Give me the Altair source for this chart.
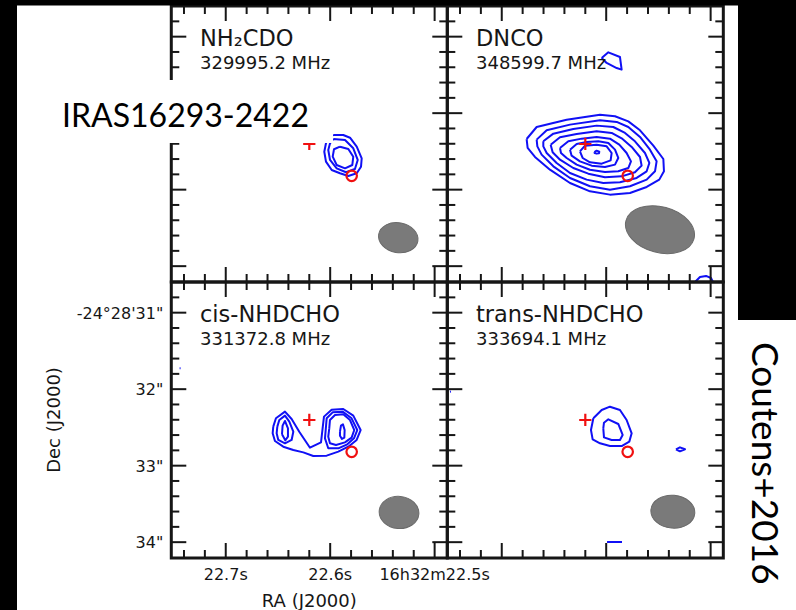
import altair as alt
import pandas as pd

# ---------------------------------------------------------------
# Values (IRAS16293-2422 B, Coutens+2016)
# ---------------------------------------------------------------
PANEL_NAME = ["NH₂CDO", "DNCO", "cis-NHDCHO", "trans-NHDCHO"]
PANEL_FREQ = ["329995.2 MHz", "348599.7 MHz", "331372.8 MHz", "333694.1 MHz"]
PANEL_COL = [0, 1, 0, 1]
PANEL_ROW = [0, 0, 1, 1]

# map centre = red cross : RA 16h32m22.620s, Dec -24d28m32.40s
RA_CENTRE_S = 22.620
DEC_CENTRE_AS = 32.403
FIELD_AS = 3.608          # side of each map (arcsec)
SEC_TO_AS = 13.652        # 1 s of RA at this declination (arcsec)

RA_TICK_S = [22.50, 22.52, 22.54, 22.56, 22.58, 22.60, 22.62,
             22.64, 22.66, 22.68, 22.70, 22.72, 22.74]
RA_LABEL_S = [22.7, 22.6, 22.5]
RA_LABEL = ["22.7s", "22.6s", "16h32m22.5s"]
DEC_TICK_AS = [30.8, 31.0, 31.2, 31.4, 31.6, 31.8, 32.0, 32.2, 32.4,
               32.6, 32.8, 33.0, 33.2, 33.4, 33.6, 33.8, 34.0]
DEC_LABEL_AS = [31, 32, 33, 34]
DEC_LABEL = ["-24°28'31\"", "32\"", "33\"", "34\""]

# second source (red circle): offset from the cross, arcsec (east, north)
SRC2_DRA, SRC2_DDEC = -0.554, -0.416

# synthesized beams: offset of centre (east, north), axes (arcsec), angle
BEAM_DRA = [-1.163, -0.976, -1.173, -1.144]
BEAM_DDEC = [-1.225, -1.120, -1.209, -1.199]
BEAM_MAJ = [0.52, 0.92, 0.52, 0.575]
BEAM_MIN = [0.39, 0.60, 0.42, 0.43]
BEAM_PA = [10, 15, 5, 5]

# contours: points are (east offset, north offset) in arcsec from the cross
NH2CDO_1 = [(-0.314, 0.118), (-0.444, 0.118), (-0.532, 0.082), (-0.620, -0.035), (-0.685, -0.187),
            (-0.676, -0.297), (-0.620, -0.383), (-0.510, -0.418), (-0.401, -0.383), (-0.293, -0.340),
            (-0.218, -0.231), (-0.196, -0.101), (-0.218, 0.009), (-0.261, 0.082)]
NH2CDO_2 = [(-0.314, 0.065), (-0.467, 0.052), (-0.575, -0.056), (-0.633, -0.209), (-0.597, -0.327),
            (-0.480, -0.370), (-0.358, -0.318), (-0.271, -0.209), (-0.248, -0.078), (-0.271, 0.009)]
NH2CDO_3 = [(-0.401, -0.035), (-0.510, -0.065), (-0.575, -0.166), (-0.562, -0.275), (-0.467, -0.318),
            (-0.358, -0.275), (-0.306, -0.166), (-0.323, -0.069)]

DNCO_1 = [(0.767, 0.065), (0.636, 0.222), (0.244, 0.318), (-0.192, 0.383), (-0.388, 0.362),
          (-0.562, 0.296), (-0.715, 0.179), (-0.889, -0.022), (-1.020, -0.196), (-1.028, -0.357),
          (-0.967, -0.466), (-0.802, -0.562), (-0.584, -0.641), (-0.322, -0.662), (-0.061, -0.619),
          (0.200, -0.510), (0.462, -0.336), (0.658, -0.170), (0.754, -0.052)]
DNCO_2 = [(0.636, 0.057), (0.505, 0.179), (0.200, 0.253), (-0.192, 0.309), (-0.410, 0.288),
          (-0.562, 0.222), (-0.715, 0.092), (-0.845, -0.074), (-0.932, -0.227), (-0.911, -0.357),
          (-0.802, -0.466), (-0.584, -0.553), (-0.322, -0.597), (-0.061, -0.553), (0.200, -0.444),
          (0.418, -0.292), (0.571, -0.139), (0.627, -0.031)]
DNCO_3 = [(0.549, 0.035), (0.418, 0.135), (0.157, 0.196), (-0.148, 0.240), (-0.366, 0.222),
          (-0.519, 0.144), (-0.649, 0.035), (-0.780, -0.118), (-0.837, -0.248), (-0.802, -0.357),
          (-0.671, -0.444), (-0.453, -0.501), (-0.235, -0.510), (-0.017, -0.466), (0.200, -0.379),
          (0.375, -0.248), (0.505, -0.118), (0.549, -0.031)]
DNCO_4 = [(0.453, -0.009), (0.331, 0.087), (0.113, 0.131), (-0.148, 0.166), (-0.344, 0.144),
          (-0.475, 0.074), (-0.606, -0.039), (-0.715, -0.170), (-0.736, -0.283), (-0.649, -0.370),
          (-0.475, -0.423), (-0.257, -0.436), (-0.039, -0.388), (0.157, -0.314), (0.331, -0.205),
          (0.427, -0.109)]
DNCO_5 = [(0.331, -0.052), (0.222, 0.035), (0.048, 0.070), (-0.148, 0.092), (-0.322, 0.070),
          (-0.444, -0.009), (-0.540, -0.118), (-0.597, -0.227), (-0.562, -0.314), (-0.431, -0.357),
          (-0.257, -0.366), (-0.061, -0.336), (0.113, -0.270), (0.244, -0.183), (0.318, -0.118)]
DNCO_6 = [(0.200, -0.074), (0.113, 0.000), (-0.017, 0.026), (-0.170, 0.035), (-0.301, 0.013),
          (-0.388, -0.074), (-0.431, -0.183), (-0.388, -0.270), (-0.257, -0.301), (-0.083, -0.283),
          (0.070, -0.227), (0.179, -0.153)]
DNCO_7 = [(0.070, -0.096), (0.004, -0.022), (-0.148, -0.009), (-0.279, -0.031), (-0.344, -0.118),
          (-0.331, -0.214), (-0.214, -0.257), (-0.061, -0.240), (0.035, -0.183)]
DNCO_PEAK = [(-0.118, -0.105), (-0.148, -0.087), (-0.183, -0.100), (-0.179, -0.122),
             (-0.148, -0.126), (-0.122, -0.118)]
DNCO_NORTH = [(-0.214, 1.124), (-0.301, 1.198), (-0.453, 1.137), (-0.475, 0.972),
              (-0.410, 0.993), (-0.279, 1.059)]
DNCO_EDGE = [(-1.434, -1.804), (-1.499, -1.739), (-1.578, -1.725), (-1.643, -1.752), (-1.669, -1.804)]

CIS_1 = [(0.471, -0.087), (0.436, 0.022), (0.318, 0.109), (0.231, 0.013), (0.131, -0.153),
         (-0.009, -0.362), (-0.153, -0.292), (-0.174, -0.109), (-0.192, 0.044), (-0.292, 0.135),
         (-0.444, 0.144), (-0.575, 0.057), (-0.671, -0.131), (-0.619, -0.261), (-0.510, -0.349),
         (-0.379, -0.414), (-0.227, -0.466), (-0.052, -0.471), (0.078, -0.423), (0.209, -0.392),
         (0.340, -0.349), (0.449, -0.275), (0.479, -0.174)]
CIS_E2 = [(0.418, -0.087), (0.392, 0.000), (0.318, 0.057), (0.261, -0.022), (0.209, -0.153),
          (0.231, -0.261), (0.318, -0.305), (0.405, -0.261), (0.427, -0.174)]
CIS_E3 = [(0.357, -0.187), (0.349, -0.074), (0.318, -0.013), (0.279, -0.109), (0.279, -0.218),
          (0.314, -0.266)]
CIS_W2 = [(-0.218, -0.087), (-0.227, 0.022), (-0.305, 0.100), (-0.436, 0.109), (-0.553, 0.022),
          (-0.627, -0.131), (-0.584, -0.240), (-0.497, -0.318), (-0.379, -0.370), (-0.248, -0.370),
          (-0.205, -0.240)]
CIS_W3 = [(-0.261, -0.109), (-0.270, 0.000), (-0.336, 0.065), (-0.444, 0.074), (-0.532, 0.000),
          (-0.588, -0.131), (-0.553, -0.231), (-0.466, -0.292), (-0.349, -0.327), (-0.270, -0.305),
          (-0.248, -0.218)]
CIS_W4 = [(-0.401, -0.153), (-0.414, -0.074), (-0.440, -0.057), (-0.462, -0.131), (-0.458, -0.231),
          (-0.427, -0.248), (-0.401, -0.205)]
CIS_DOT = [(1.695, 0.676), (1.683, 0.676)]

TRANS_1 = [(-0.105, 0.022), (-0.214, 0.131), (-0.322, 0.174), (-0.453, 0.131), (-0.540, 0.000),
           (-0.606, -0.174), (-0.575, -0.283), (-0.475, -0.340), (-0.322, -0.340), (-0.192, -0.305),
           (-0.096, -0.253), (-0.074, -0.131)]
TRANS_2 = [(-0.235, -0.109), (-0.244, -0.035), (-0.301, 0.009), (-0.431, -0.052), (-0.488, -0.196),
           (-0.453, -0.261), (-0.344, -0.261), (-0.244, -0.227)]
TRANS_BLOB = [(-1.185, -0.383), (-1.237, -0.357), (-1.303, -0.383), (-1.237, -0.410)]
TRANS_SOUTH = [(-0.284, -1.595), (-0.480, -1.595)]
TRANS_DOT = [(1.769, 0.370), (1.757, 0.372)]

# (panel index, closed?, points)
CONTOURS = [
    (0, True, NH2CDO_1), (0, True, NH2CDO_2), (0, True, NH2CDO_3),
    (1, True, DNCO_1), (1, True, DNCO_2), (1, True, DNCO_3), (1, True, DNCO_4),
    (1, True, DNCO_5), (1, True, DNCO_6), (1, True, DNCO_7), (1, True, DNCO_PEAK),
    (1, True, DNCO_NORTH), (1, False, DNCO_EDGE),
    (2, True, CIS_1), (2, True, CIS_E2), (2, True, CIS_E3), (2, True, CIS_W2),
    (2, True, CIS_W3), (2, True, CIS_W4), (2, False, CIS_DOT),
    (3, True, TRANS_1), (3, True, TRANS_2), (3, True, TRANS_BLOB),
    (3, False, TRANS_SOUTH), (3, False, TRANS_DOT),
]

# ---------------------------------------------------------------
# geometry helpers
# ---------------------------------------------------------------
PX = 1 / 76.5                 # arcsec per screen pixel
HALF = FIELD_AS / 2
XS = alt.Scale(domain=[-4.0431, 6.3621], nice=False, zero=False)
YS = alt.Scale(domain=[-5.4902, 2.4837], nice=False, zero=False, reverse=True)


def ex(f):
    return alt.X(f + ":Q", scale=XS, axis=None)


def ey(f):
    return alt.Y(f + ":Q", scale=YS, axis=None)


def centre(p):
    return PANEL_COL[p] * FIELD_AS, (PANEL_ROW[p] - 1) * FIELD_AS


ONE = pd.DataFrame({"k": [0]})
BLUE = "#1010f5"
RED = "#f01010"
INK = "#161616"

# contours
crow = []
for cid, (p, closed, pts) in enumerate(CONTOURS):
    cx, cy = centre(p)
    seq = list(pts) + ([pts[0]] if closed else [])
    for i, (dra, ddec) in enumerate(seq):
        crow.append(dict(cid=cid, i=i, x=cx - dra, y=cy - ddec))
contours = alt.Chart(pd.DataFrame(crow)).mark_line(
    color=BLUE, strokeWidth=2, strokeJoin="round"
).encode(x=ex("x"), y=ey("y"), detail="cid:N", order="i:Q")

# beams
brow = []
for p in range(4):
    cx, cy = centre(p)
    r = BEAM_MIN[p] / BEAM_MAJ[p]
    path = f"M -1 0 A 1 {r:.3f} 0 1 0 1 0 A 1 {r:.3f} 0 1 0 -1 0 Z"
    brow.append(dict(x=cx - BEAM_DRA[p], y=cy - BEAM_DDEC[p], bmaj=BEAM_MAJ[p],
                     pa=BEAM_PA[p], path=path))
beams = alt.Chart(pd.DataFrame(brow)).mark_point(
    filled=True, fill="#7a7a7a", stroke="#6a6a6a", strokeWidth=1, opacity=1
).encode(
    x=ex("x"), y=ey("y"),
    shape=alt.Shape("path:N", scale=None),
    size=alt.Size("bmaj:Q", scale=alt.Scale(type="pow", exponent=2, domain=[0, 1],
                                            range=[0, 76.5 ** 2]), legend=None),
    angle=alt.Angle("pa:Q", scale=None),
)

# sources
srow = []
for p in range(4):
    cx, cy = centre(p)
    srow.append(dict(x=cx, y=cy, kind="cross"))
    srow.append(dict(x=cx - SRC2_DRA, y=cy - SRC2_DDEC, kind="circle"))
sdf = pd.DataFrame(srow)
crosses = alt.Chart(sdf).transform_filter("datum.kind == 'cross'").mark_point(
    shape="M -1 0 L 1 0 M 0 -1 L 0 1", size=150, color=RED, filled=False,
    strokeWidth=2.2, opacity=1
).encode(x=ex("x"), y=ey("y"))
circles = alt.Chart(sdf).transform_filter("datum.kind == 'circle'").mark_point(
    shape="circle", size=110, color=RED, filled=False, strokeWidth=2.2, opacity=1
).encode(x=ex("x"), y=ey("y"))

# frames
frow = []
for p in range(4):
    cx, cy = centre(p)
    frow.append(dict(x=cx - HALF, x2=cx + HALF, y=cy - HALF, y2=cy + HALF))
frames = alt.Chart(pd.DataFrame(frow)).mark_rect(
    fillOpacity=0, stroke=INK, strokeWidth=3
).encode(x=ex("x"), x2="x2:Q", y=ey("y"), y2="y2:Q")

# ticks (inside, on all four sides)
trow = []
for p in range(4):
    cx, cy = centre(p)
    for ra in RA_TICK_S:
        major = abs(ra * 10 - round(ra * 10)) < 1e-6
        L = (15 if major else 8) * PX
        x = cx + (RA_CENTRE_S - ra) * SEC_TO_AS
        trow.append(dict(x=x, x2=x, y=cy + HALF, y2=cy + HALF - L))
        trow.append(dict(x=x, x2=x, y=cy - HALF, y2=cy - HALF + L))
    for d in DEC_TICK_AS:
        major = abs(d - round(d)) < 1e-6
        L = (15 if major else 8) * PX
        y = cy + (d - DEC_CENTRE_AS)
        trow.append(dict(x=cx - HALF, x2=cx - HALF + L, y=y, y2=y))
        trow.append(dict(x=cx + HALF, x2=cx + HALF - L, y=y, y2=y))
ticks = alt.Chart(pd.DataFrame(trow)).mark_rule(color=INK, strokeWidth=2).encode(
    x=ex("x"), x2="x2:Q", y=ey("y"), y2="y2:Q")

# panel labels
lrow = []
for p in range(4):
    cx, cy = centre(p)
    lrow.append(dict(x=cx - HALF, y=cy - HALF, name=PANEL_NAME[p], freq=PANEL_FREQ[p]))
ldf = pd.DataFrame(lrow)
names = alt.Chart(ldf).mark_text(
    align="left", baseline="alphabetic", dx=28.7, dy=40.5, fontSize=22.5,
    font="DejaVu Sans", color=INK
).encode(x=ex("x"), y=ey("y"), text="name:N")
freqs = alt.Chart(ldf).mark_text(
    align="left", baseline="alphabetic", dx=28.7, dy=63.3, fontSize=18,
    font="DejaVu Sans", color=INK
).encode(x=ex("x"), y=ey("y"), text="freq:N")

# axis labels of the lower-left map
ra_df = pd.DataFrame({"x": [(RA_CENTRE_S - v) * SEC_TO_AS for v in RA_LABEL_S],
                      "y": [HALF] * len(RA_LABEL_S), "t": RA_LABEL})
ra_lab = alt.Chart(ra_df).mark_text(
    align="center", baseline="alphabetic", dy=22, fontSize=16, font="DejaVu Sans", color=INK
).encode(x=ex("x"), y=ey("y"), text="t:N")
dec_df = pd.DataFrame({"x": [-HALF] * len(DEC_LABEL_AS),
                       "y": [v - DEC_CENTRE_AS for v in DEC_LABEL_AS], "t": DEC_LABEL})
dec_lab = alt.Chart(dec_df).mark_text(
    align="right", baseline="alphabetic", dx=-8, dy=6, fontSize=16, font="DejaVu Sans", color=INK
).encode(x=ex("x"), y=ey("y"), text="t:N")
ra_title = alt.Chart(pd.DataFrame({"x": [0.0], "y": [HALF], "t": ["RA (J2000)"]})).mark_text(
    align="center", baseline="alphabetic", dy=49, fontSize=18, font="DejaVu Sans", color=INK
).encode(x=ex("x"), y=ey("y"), text="t:N")
dec_title = alt.Chart(pd.DataFrame({"x": [-HALF - 111.3 * PX], "y": [0.0],
                                    "t": ["Dec (J2000)"]})).mark_text(
    align="center", baseline="alphabetic", angle=270, fontSize=18, font="DejaVu Sans", color=INK
).encode(x=ex("x"), y=ey("y"), text="t:N")


# slide decorations (screen positions)
def block(x0, x1, y0, y1, color):
    return alt.Chart(ONE).mark_rect(color=color, opacity=1).encode(
        x=alt.value(x0), x2=alt.value(x1), y=alt.value(y0), y2=alt.value(y1))


top_strip = block(0, 796, 0, 5.5, "#000000")
left_strip = block(0, 17, 0, 610, "#000000")
right_block = block(738, 796, 0, 320, "#000000")
label_box = block(17, 333, 80, 143, "#ffffff")
iras = alt.Chart(ONE).mark_text(
    text="IRAS16293-2422", align="left", baseline="alphabetic", fontSize=32,
    font="Lato", color="#000000"
).encode(x=alt.value(62), y=alt.value(126.7))
coutens = alt.Chart(ONE).mark_text(
    text="Coutens+2016", align="left", baseline="alphabetic", angle=90, fontSize=37,
    font="Lato", color="#000000"
).encode(x=alt.value(752), y=alt.value(342))

chart = alt.layer(
    beams, contours, crosses, circles, frames, ticks, names, freqs,
    ra_lab, dec_lab, ra_title, dec_title,
    top_strip, left_strip, right_block, label_box, iras, coutens
).properties(
    width=796, height=610, padding=0,
    autosize=alt.AutoSizeParams(type="none"), background="#ffffff"
).configure_view(strokeWidth=0)

chart.save("out.html", embed_options={"renderer": "svg", "actions": False})
